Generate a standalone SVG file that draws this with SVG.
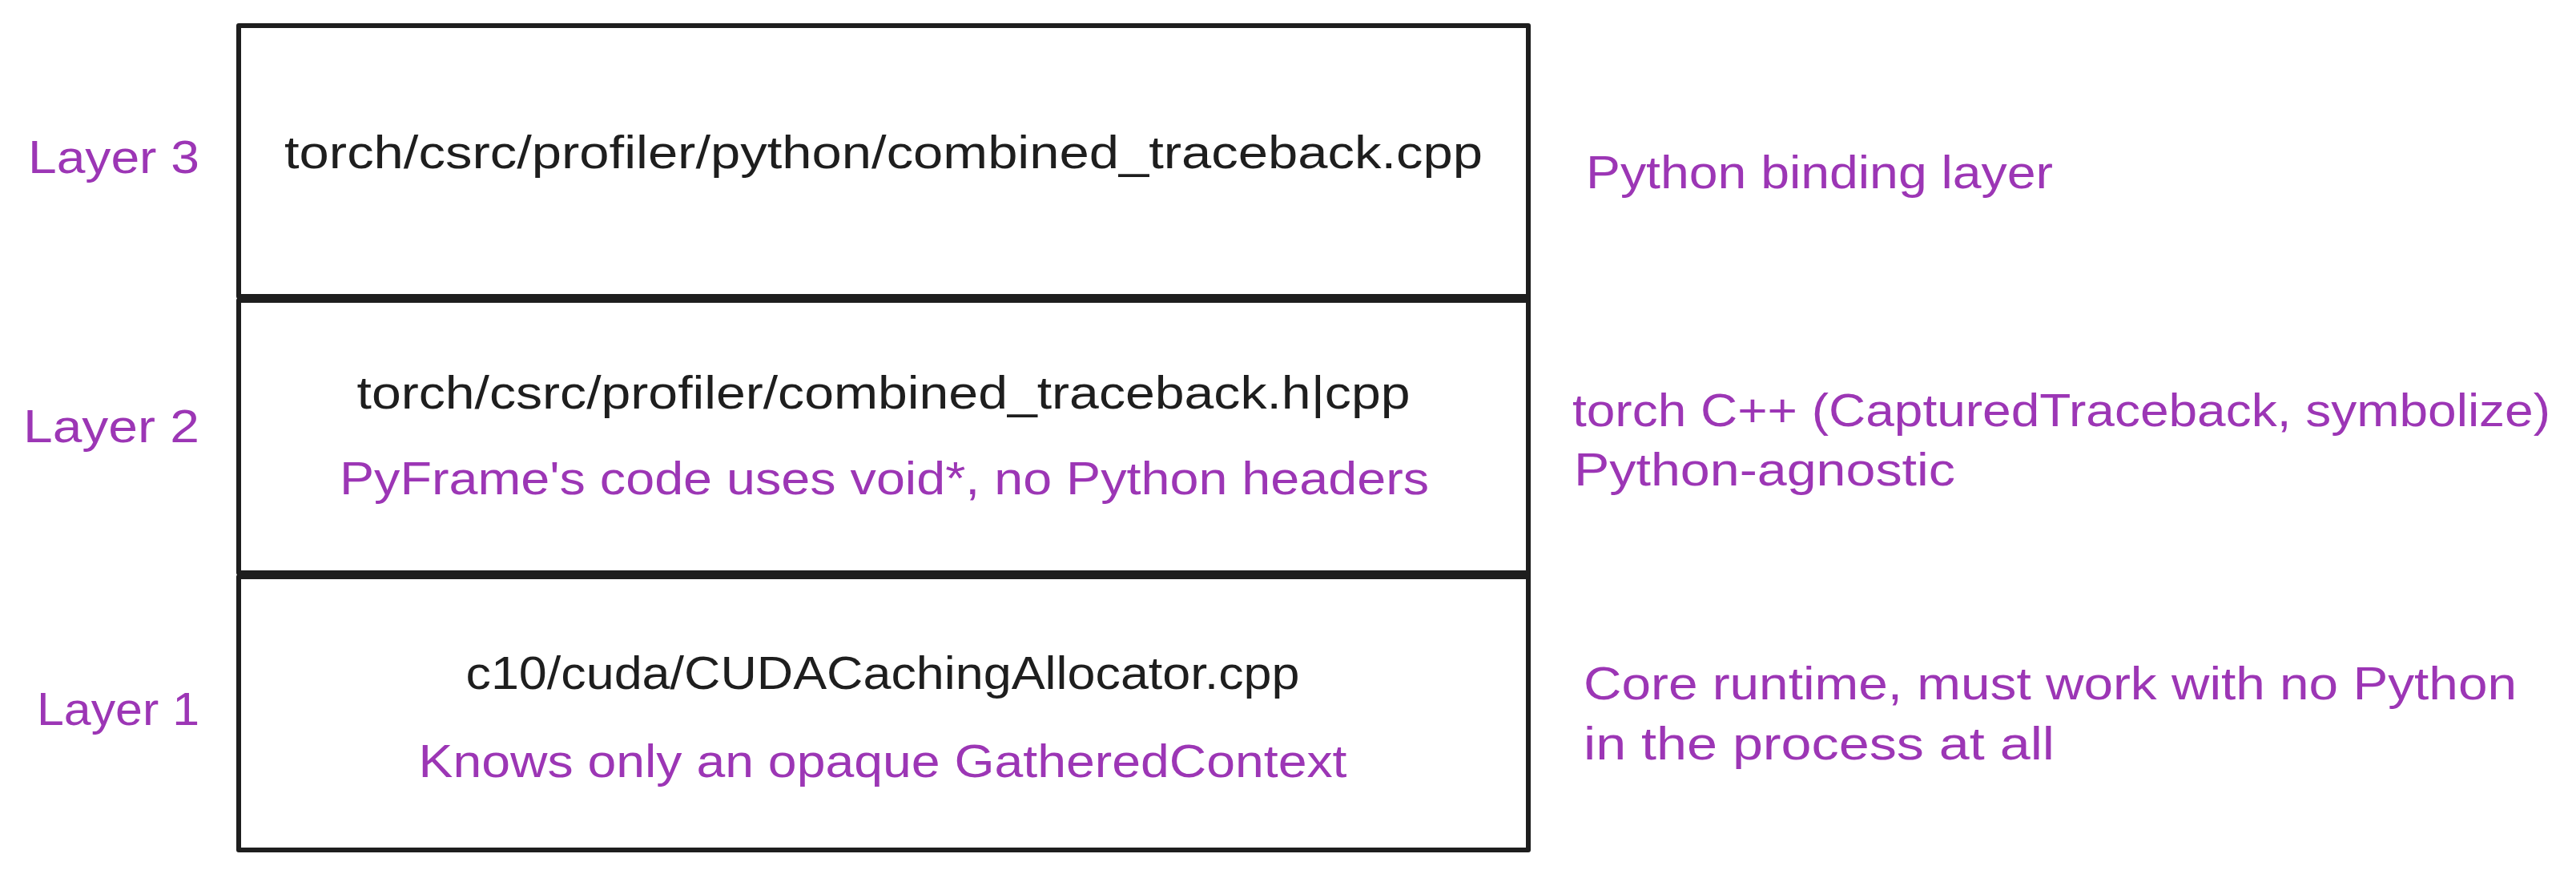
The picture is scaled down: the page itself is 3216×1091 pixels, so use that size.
<svg xmlns="http://www.w3.org/2000/svg" width="3216" height="1091" viewBox="0 0 3216 1091">
<style>
.box{fill:#ffffff;stroke:#1e1e1e;stroke-width:6;stroke-linejoin:round}
.t{font-family:"Liberation Sans","DejaVu Sans",sans-serif;font-size:58px}
.k{fill:#1e1e1e}
.p{fill:#9c36b5}
.c{text-anchor:middle}
</style>
<rect width="3216" height="1091" fill="#ffffff"/>
<g id="layer3">
<rect class="box" x="298" y="32" width="1610" height="338"/>
</g>
<g id="layer2">
<rect class="box" x="298" y="375" width="1610" height="340"/>
</g>
<g id="layer1">
<rect class="box" x="298" y="720" width="1610" height="341"/>
</g>
<g id="dividers">
<rect x="296" y="367" width="1615" height="11" fill="#1e1e1e"/>
<rect x="296" y="712" width="1615" height="11" fill="#1e1e1e"/>
</g>
<g id="layer3-text">
<text class="t k c" x="1103" y="210" textLength="1496" lengthAdjust="spacingAndGlyphs">torch/csrc/profiler/python/combined_traceback.cpp</text>
</g>
<g id="layer2-text">
<text class="t k c" x="1103" y="510" textLength="1315" lengthAdjust="spacingAndGlyphs">torch/csrc/profiler/combined_traceback.h|cpp</text>
<text class="t p c" x="1104" y="617" textLength="1360" lengthAdjust="spacingAndGlyphs">PyFrame's code uses void*, no Python headers</text>
</g>
<g id="layer1-text">
<text class="t k c" x="1102" y="860" textLength="1041" lengthAdjust="spacingAndGlyphs">c10/cuda/CUDACachingAllocator.cpp</text>
<text class="t p c" x="1102" y="970" textLength="1159" lengthAdjust="spacingAndGlyphs">Knows only an opaque GatheredContext</text>
</g>
<g id="labels">
<text class="t p" x="35" y="216" textLength="214" lengthAdjust="spacingAndGlyphs">Layer 3</text>
<text class="t p" x="29" y="552" textLength="220" lengthAdjust="spacingAndGlyphs">Layer 2</text>
<text class="t p" x="46" y="905" textLength="203" lengthAdjust="spacingAndGlyphs">Layer 1</text>
<text class="t p" x="1980" y="235" textLength="583" lengthAdjust="spacingAndGlyphs">Python binding layer</text>
<text class="t p" x="1963" y="532" textLength="1221" lengthAdjust="spacingAndGlyphs">torch C++ (CapturedTraceback, symbolize)</text>
<text class="t p" x="1965" y="606" textLength="476" lengthAdjust="spacingAndGlyphs">Python-agnostic</text>
<text class="t p" x="1977" y="873" textLength="1165" lengthAdjust="spacingAndGlyphs">Core runtime, must work with no Python</text>
<text class="t p" x="1977" y="948" textLength="588" lengthAdjust="spacingAndGlyphs">in the process at all</text>
</g>
<g id="connectors"></g>
</svg>
